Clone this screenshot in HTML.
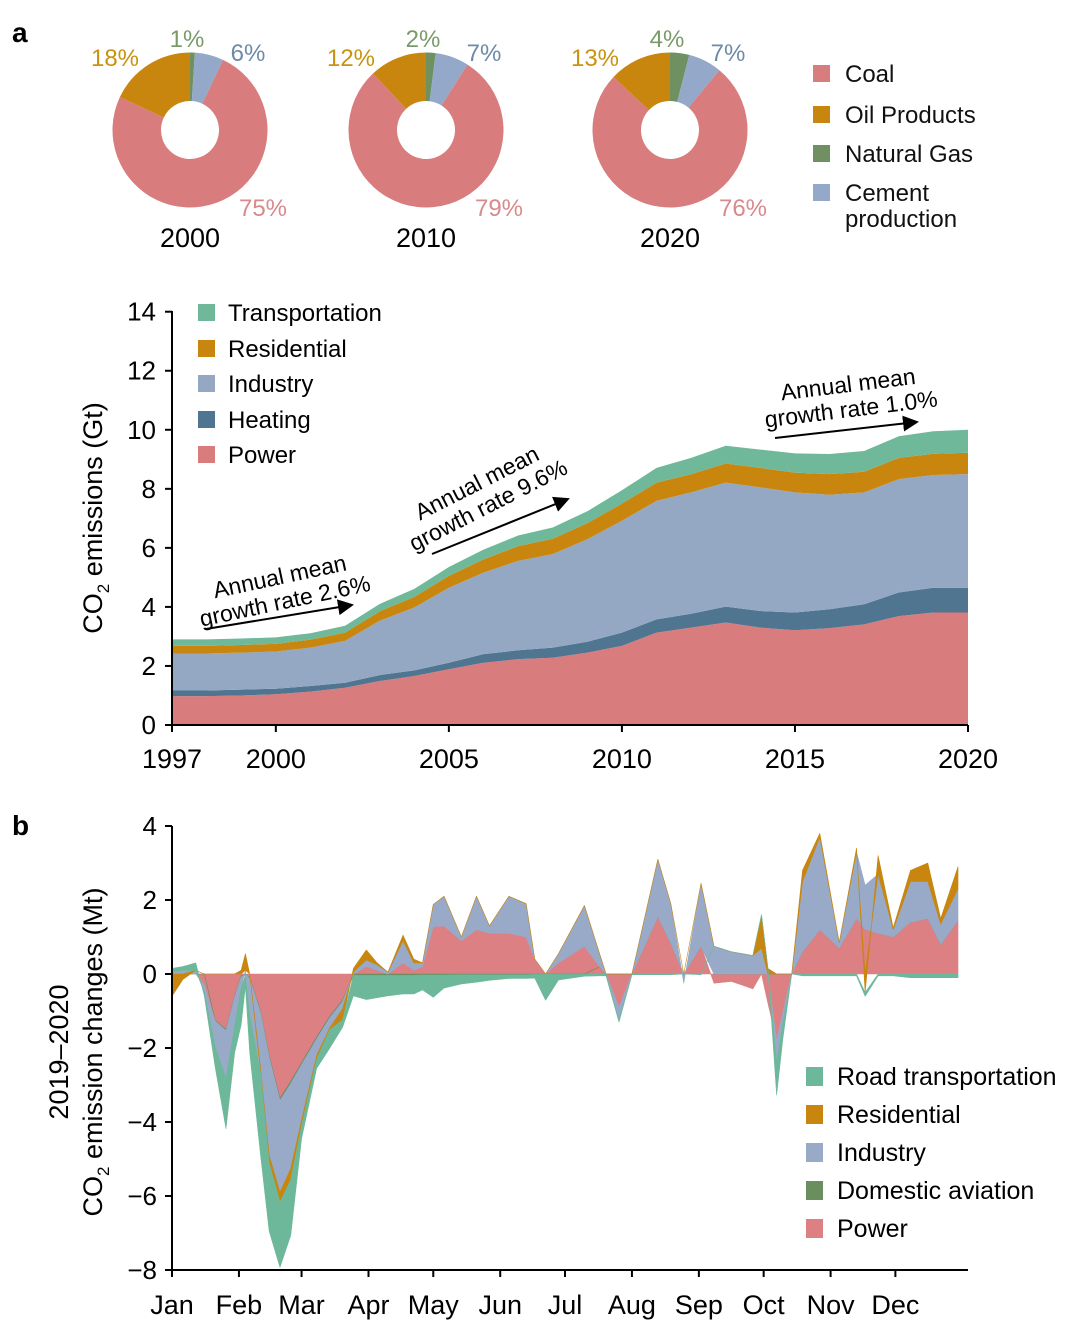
<!DOCTYPE html>
<html><head><meta charset="utf-8"><style>
body{margin:0;background:#fff;}
svg{display:block;font-family:"Liberation Sans",sans-serif;}
</style></head><body>
<svg id="s" width="1080" height="1337" viewBox="0 0 1080 1337">
<text x="12" y="42" font-size="28" font-weight="bold">a</text>
<text x="12" y="835" font-size="28" font-weight="bold">b</text>
<g id="pies"></g>
<g font-size="24" fill="#111">
<rect x="813" y="65" width="17" height="17" fill="#d87c7e"/><text x="845" y="82">Coal</text>
<rect x="813" y="106" width="17" height="17" fill="#c8860f"/><text x="845" y="123">Oil Products</text>
<rect x="813" y="145" width="17" height="17" fill="#6f9060"/><text x="845" y="162">Natural Gas</text>
<rect x="813" y="184" width="17" height="17" fill="#94a9c9"/><text x="845" y="201">Cement</text><text x="845" y="227">production</text>
</g>
<g id="pa"></g>
<g id="pb"></g>
</svg>
<script>
const NS="http://www.w3.org/2000/svg";
function mk(parent,tag,attrs,txt){const e=document.createElementNS(NS,tag);for(const k in attrs)e.setAttribute(k,attrs[k]);if(txt!==undefined)e.textContent=txt;parent.appendChild(e);return e;}

// ---------- Pies ----------
const pieYears=["2000","2010","2020"];
const pieGas=[1,2,4];
const pieCement=[6,7,7];
const pieCoal=[75,79,76];
const pieOil=[18,12,13];
const pieCx=[190,426,670];
const pieCols=["#6f9060","#94a9c9","#d87c7e","#c8860f"];
const pies=document.getElementById('pies');
pieYears.forEach((yr,i)=>{
  const vals=[pieGas[i],pieCement[i],pieCoal[i],pieOil[i]];
  const tot=vals.reduce((a,b)=>a+b,0);
  const cx=pieCx[i],cy=130,R=77.5,r=29;
  let a0=0;
  const names=['gas','cement','coal','oil'];
  vals.forEach((v,j)=>{
    const a1=a0+v/tot*2*Math.PI;
    const p=(a,rr)=>[cx+rr*Math.sin(a),cy-rr*Math.cos(a)];
    const [x0,y0]=p(a0,R),[x1,y1]=p(a1,R),[x2,y2]=p(a1,r),[x3,y3]=p(a0,r);
    const lg=(a1-a0)>Math.PI?1:0;
    const el=mk(pies,'path',{d:`M${x0},${y0}A${R},${R} 0 ${lg} 1 ${x1},${y1}L${x2},${y2}A${r},${r} 0 ${lg} 0 ${x3},${y3}Z`,fill:pieCols[j]});
    
    
    a0=a1;
  });
  const labs=[[pieGas[i]+'%',cx-3,47,'#7a9a6a'],[pieCement[i]+'%',cx+58,61,'#6d8aa8'],[pieOil[i]+'%',cx-75,66,'#c8930f'],[pieCoal[i]+'%',cx+73,216,'#d88a8c']];
  labs.forEach((l,j)=>{
    const t=mk(pies,'text',{x:l[1],y:l[2],'font-size':24,fill:l[3],'text-anchor':'middle'},l[0]);
    
    
  });
  const yt=mk(pies,'text',{x:cx,y:247,'font-size':27,fill:'#000','text-anchor':'middle'},yr);
  
  
});

// ---------- Panel a ----------
const aYears=[1997,1998,1999,2000,2001,2002,2003,2004,2005,2006,2007,2008,2009,2010,2011,2012,2013,2014,2015,2016,2017,2018,2019,2020];
const aPower=[0.98,0.98,1.0,1.04,1.13,1.26,1.49,1.66,1.89,2.11,2.23,2.28,2.45,2.68,3.13,3.3,3.47,3.3,3.21,3.28,3.41,3.69,3.81,3.81];
const aHeating=[0.19,0.19,0.2,0.19,0.19,0.17,0.2,0.19,0.22,0.29,0.3,0.34,0.37,0.45,0.45,0.47,0.54,0.56,0.6,0.64,0.68,0.8,0.84,0.84];
const aIndustry=[1.25,1.25,1.25,1.26,1.3,1.42,1.84,2.13,2.54,2.76,3.03,3.17,3.47,3.79,4.01,4.11,4.2,4.19,4.07,3.88,3.79,3.84,3.82,3.85];
const aResidential=[0.26,0.26,0.26,0.26,0.27,0.28,0.32,0.36,0.4,0.45,0.5,0.52,0.55,0.58,0.62,0.62,0.65,0.66,0.67,0.7,0.7,0.72,0.72,0.72];
const aTransport=[0.22,0.22,0.22,0.22,0.22,0.23,0.25,0.27,0.3,0.33,0.36,0.38,0.4,0.45,0.5,0.55,0.6,0.62,0.65,0.68,0.7,0.73,0.76,0.78];
const aYTicks=[0,2,4,6,8,10,12,14];
const aXTicks=[1997,2000,2005,2010,2015,2020];
const ax=y=>172+(y-1997)*(968-172)/23;
const ay=v=>725-v*(725-311.7)/14;
const pa=document.getElementById('pa');
{
  const series=[[aPower,'#d87c7e','power'],[aHeating,'#4f7590','heating'],[aIndustry,'#94a8c4','industry'],[aResidential,'#c8860f','residential'],[aTransport,'#6fb89a','transportation']];
  let base=aYears.map(()=>0);
  series.forEach(([vals,col,nm])=>{
    const top=base.map((b,i)=>b+vals[i]);
    let d='M'+aYears.map((y,i)=>ax(y)+','+ay(top[i])).join('L');
    d+='L'+aYears.map((y,i)=>ax(y)+','+ay(base[i])).reverse().join('L')+'Z';
    const p=mk(pa,'path',{d:d,fill:col});
    
    
    base=top;
  });
  mk(pa,'line',{x1:172,y1:311,x2:172,y2:725,stroke:'#000','stroke-width':2});
  mk(pa,'line',{x1:171,y1:725,x2:968,y2:725,stroke:'#000','stroke-width':2});
  aYTicks.forEach(v=>{
    mk(pa,'line',{x1:165,y1:ay(v),x2:172,y2:ay(v),stroke:'#000','stroke-width':2});
    const t=mk(pa,'text',{x:156,y:ay(v)+9,'font-size':26,'text-anchor':'end'},String(v));
    
    
  });
  aXTicks.forEach(v=>{
    mk(pa,'line',{x1:ax(v),y1:725,x2:ax(v),y2:732,stroke:'#000','stroke-width':2});
    const t=mk(pa,'text',{x:ax(v),y:768,'font-size':27,'text-anchor':'middle'},String(v));
    
    
  });
}
</script>
<script>
(function(){
const pa=document.getElementById('pa');
pa.insertAdjacentHTML('beforeend',`
<text transform="translate(102,518) rotate(-90)" font-size="27" text-anchor="middle">CO<tspan font-size="17" dy="7">2</tspan><tspan dy="-7"> emissions (Gt)</tspan></text>
<g font-size="24">
<rect x="198" y="304" width="17" height="17" fill="#6fb89a"/><text x="228" y="321">Transportation</text>
<rect x="198" y="340" width="17" height="17" fill="#c8860f"/><text x="228" y="357">Residential</text>
<rect x="198" y="375" width="17" height="17" fill="#94a8c4"/><text x="228" y="392">Industry</text>
<rect x="198" y="411" width="17" height="17" fill="#4f7590"/><text x="228" y="428">Heating</text>
<rect x="198" y="446" width="17" height="17" fill="#d87c7e"/><text x="228" y="463">Power</text>
</g>
<defs><marker id="ar" markerWidth="8" markerHeight="8" refX="7" refY="4" orient="auto"><path d="M0,0L8,4L0,8Z" fill="#000"/></marker></defs>
<g font-size="23">
<g transform="translate(283,592) rotate(-12)"><text x="0" y="-8" text-anchor="middle">Annual mean</text><text x="0" y="17" text-anchor="middle">growth rate 2.6%</text></g>
<line x1="206" y1="629" x2="352" y2="605" stroke="#000" stroke-width="2" marker-end="url(#ar)"/>
<g transform="translate(484,497) rotate(-27)"><text x="0" y="-8" text-anchor="middle">Annual mean</text><text x="0" y="17" text-anchor="middle">growth rate 9.6%</text></g>
<line x1="432" y1="554" x2="568" y2="499" stroke="#000" stroke-width="2" marker-end="url(#ar)"/>
<g transform="translate(850,400) rotate(-7)"><text x="0" y="-8" text-anchor="middle">Annual mean</text><text x="0" y="17" text-anchor="middle">growth rate 1.0%</text></g>
<line x1="775" y1="438" x2="917" y2="422" stroke="#000" stroke-width="2" marker-end="url(#ar)"/>
</g>`);
})();

// ---------- Panel b ----------
const bDays=[0,5,11,15,20,25,29,32,34,36,41,45,50,55,60,67,73,79,84,90,95,100,107,112,116,121,126,134,141,147,156,164,168,173,179,191,198,201,207,213,225,231,237,245,251,259,269,273,276,280,283,287,292,300,309,317,321,327,334,342,350,356,364];
const bPower=[0,0,0,-0.3,-1.25,-1.5,-0.6,-0.05,0,-0.1,-1.0,-2.2,-3.36,-2.9,-2.4,-1.7,-1.15,-0.7,0,0.2,0.1,0,0.3,0.1,0.2,1.28,1.3,0.9,1.2,1.1,1.1,1.0,0.4,0,0.3,0.75,0.2,0,-0.9,0,1.55,0.83,0,0.75,-0.25,-0.2,-0.4,0,-0.8,-1.8,-1.0,0,0.6,1.2,0.7,1.5,1.2,1.1,1.0,1.4,1.5,0.8,1.45];
const bAviation=[0,0,0,0,-0.02,-0.03,-0.03,-0.03,-0.03,-0.03,-0.04,-0.05,-0.06,-0.06,-0.05,-0.05,-0.04,-0.04,-0.04,-0.04,-0.04,-0.04,-0.04,-0.04,-0.03,-0.03,-0.03,-0.02,-0.02,-0.02,-0.02,-0.02,-0.01,-0.01,-0.01,-0.01,0,0,0,0,0,0,0,0,0,0,0,0,0,0,0,0,0,0,0,0,0,0,0,0,0,0,0];
const bIndustry=[0.05,0.1,0.1,-0.2,-0.7,-1.3,-0.8,-0.3,0.1,-1.0,-1.5,-2.65,-2.48,-2.3,-1.5,-0.45,-0.27,-0.2,0.05,0.18,0.15,0.05,0.6,0.2,0.1,0.6,0.8,0.1,0.9,0.2,1.0,0.9,0,0,0.25,1.1,0.35,0,-0.35,0,1.55,1.07,-0.25,1.7,0.75,0.6,0.5,0.7,0,-0.6,-0.3,0,1.9,2.5,0.15,1.8,1.2,1.6,0.2,1.1,1.0,0.55,0.85];
const bResidential=[-0.6,-0.15,0,0,0,0,0,0.1,0.45,0,-0.1,-0.2,-0.27,-0.3,-0.15,-0.1,-0.05,-0.3,0.1,0.27,0.05,0,0.15,0.1,0,0,0,0,0,0,0,0,0,0,0,0,0,0,0,0,0,0,0,0,0,0,0,0.9,0.15,0,0,0,0.3,0.1,0,0.1,-0.5,0.5,0.05,0.3,0.5,0.15,0.6];
const bRoad=[0.1,0.1,0.2,-0.1,-0.55,-1.35,-0.7,-1.0,-0.3,-1.0,-2.25,-1.85,-1.76,-1.5,-0.35,-0.25,-0.5,-0.2,-0.55,-0.65,-0.6,-0.55,-0.5,-0.5,-0.4,-0.6,-0.35,-0.25,-0.2,-0.15,-0.1,-0.1,-0.1,-0.7,-0.15,-0.05,-0.05,-0.05,-0.05,-0.02,-0.02,-0.02,0,-0.02,0,0,0,0,0,-0.87,-0.4,0,-0.05,-0.05,-0.05,-0.05,-0.1,-0.05,-0.05,-0.1,-0.1,-0.1,-0.1];
const bYTicks=[4,2,0,-2,-4,-6,-8];
const bMonths=["Jan","Feb","Mar","Apr","May","Jun","Jul","Aug","Sep","Oct","Nov","Dec"];
const bMonthStart=[0,31,60,91,121,152,182,213,244,274,305,335];
const bx=d=>172+d*(958-172)/364;
const by=v=>974-v*37;
const pb=document.getElementById('pb');
{
  const series=[[bPower,'#dc8083','power'],[bAviation,'#6b8e5e','domestic-aviation'],[bIndustry,'#98aac8','industry'],[bResidential,'#c8860f','residential'],[bRoad,'#6db89b','road-transportation']];
  let pos=bDays.map(()=>0),neg=bDays.map(()=>0);
  series.forEach(([vals,col,nm])=>{
    const lo=[],hi=[];
    vals.forEach((v,i)=>{
      if(v>=0){lo.push(pos[i]);hi.push(pos[i]+v);pos[i]+=v;}
      else{lo.push(neg[i]);hi.push(neg[i]+v);neg[i]+=v;}
    });
    let d='M'+bDays.map((dd,i)=>bx(dd)+','+by(hi[i])).join('L');
    d+='L'+bDays.map((dd,i)=>bx(dd)+','+by(lo[i])).reverse().join('L')+'Z';
    const p=mk(pb,'path',{d:d,fill:col,stroke:col,'stroke-width':0.6,'stroke-linejoin':'round'});
    
    
  });
  mk(pb,'line',{x1:172,y1:826,x2:172,y2:1270,stroke:'#000','stroke-width':2});
  mk(pb,'line',{x1:171,y1:1270,x2:968,y2:1270,stroke:'#000','stroke-width':2});
  bYTicks.forEach(v=>{
    mk(pb,'line',{x1:165,y1:by(v),x2:172,y2:by(v),stroke:'#000','stroke-width':2});
    const t=mk(pb,'text',{x:157,y:by(v)+9,'font-size':26,'text-anchor':'end'},v<0?'\u2212'+(-v):String(v));
    
    
  });
  bMonths.forEach((m,i)=>{
    const x=bx(bMonthStart[i]);
    mk(pb,'line',{x1:x,y1:1270,x2:x,y2:1277,stroke:'#000','stroke-width':2});
    const t=mk(pb,'text',{x:x,y:1314,'font-size':27,'text-anchor':'middle'},m);
    
    
  });
  pb.insertAdjacentHTML('beforeend',`
<text transform="translate(68,1052) rotate(-90)" font-size="27" text-anchor="middle">2019–2020</text>
<text transform="translate(102,1052) rotate(-90)" font-size="27" text-anchor="middle">CO<tspan font-size="17" dy="7">2</tspan><tspan dy="-7"> emission changes (Mt)</tspan></text>
<g font-size="25">
<rect x="806" y="1067" width="17" height="19" fill="#6db89b"/><text x="837" y="1085">Road transportation</text>
<rect x="806" y="1105" width="17" height="19" fill="#c8860f"/><text x="837" y="1123">Residential</text>
<rect x="806" y="1143" width="17" height="19" fill="#98aac8"/><text x="837" y="1161">Industry</text>
<rect x="806" y="1181" width="17" height="19" fill="#6b8e5e"/><text x="837" y="1199">Domestic aviation</text>
<rect x="806" y="1219" width="17" height="19" fill="#dc8083"/><text x="837" y="1237">Power</text>
</g>`);
}
</script>
</body></html>
